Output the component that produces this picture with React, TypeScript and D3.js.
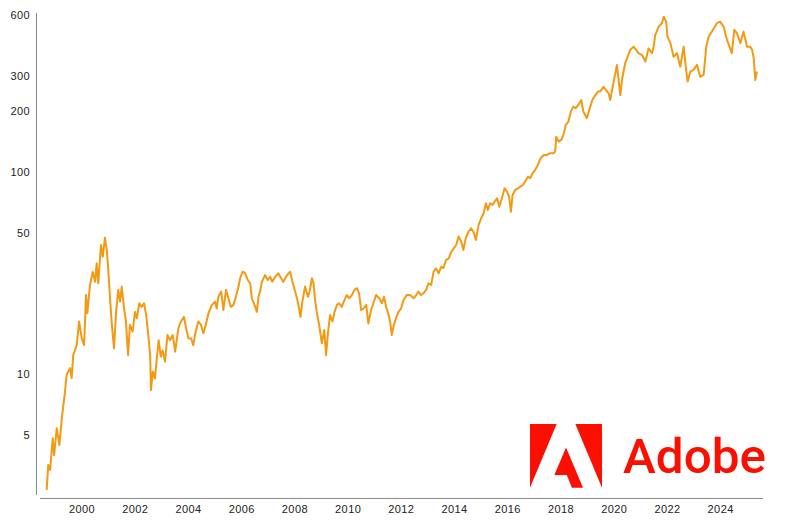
import React from 'react';
import * as d3 from 'd3';

// [decimal year, price], grouped by period
const prices1998to2003: [number, number][] = [
  [1998.67, 2.67], [1998.73, 3.55], [1998.8, 3.35], [1998.9, 4.81], [1998.95, 3.97],
  [1999.05, 5.39], [1999.15, 4.45], [1999.24, 6.04], [1999.36, 8.17], [1999.42, 9.9],
  [1999.55, 10.7], [1999.61, 9.55], [1999.67, 12.4], [1999.8, 13.9], [1999.89, 18.2],
  [1999.99, 15.0], [2000.08, 13.9], [2000.15, 24.6], [2000.2, 20.0], [2000.3, 27.6],
  [2000.4, 32.1], [2000.49, 28.6], [2000.55, 35.3], [2000.61, 28.1], [2000.71, 43.5],
  [2000.78, 38.1], [2000.86, 47.3], [2000.93, 41.1], [2000.99, 32.1], [2001.05, 23.7],
  [2001.12, 17.5], [2001.2, 13.4], [2001.28, 20.3], [2001.36, 26.1], [2001.43, 22.8],
  [2001.49, 27.1], [2001.58, 21.1], [2001.65, 18.2], [2001.73, 12.4], [2001.8, 17.5],
  [2001.9, 16.2], [2001.99, 20.3], [2002.06, 18.9], [2002.15, 22.4], [2002.24, 21.5],
  [2002.33, 22.4], [2002.41, 19.6], [2002.49, 15.6], [2002.56, 12.4], [2002.59, 8.33],
  [2002.66, 10.3], [2002.74, 9.5], [2002.81, 11.96], [2002.88, 14.7], [2002.96, 12.2],
  [2003.03, 13.1], [2003.12, 11.5], [2003.21, 15.6], [2003.31, 14.7], [2003.41, 15.6],
  [2003.5, 12.9],
];

const prices2003to2008: [number, number][] = [
  [2003.62, 16.8], [2003.68, 17.8], [2003.83, 19.2], [2003.9, 17.2], [2004.0, 15.0],
  [2004.1, 15.0], [2004.18, 13.9], [2004.27, 16.2], [2004.37, 18.2], [2004.47, 17.5],
  [2004.56, 15.9], [2004.65, 17.5], [2004.75, 20.0], [2004.88, 22.0], [2005.0, 22.8],
  [2005.06, 21.1], [2005.12, 24.1], [2005.23, 25.6], [2005.31, 20.7], [2005.41, 26.1],
  [2005.5, 23.7], [2005.59, 21.5], [2005.69, 22.0], [2005.78, 24.1], [2005.88, 27.1],
  [2005.94, 29.8], [2006.04, 32.1], [2006.13, 31.5], [2006.23, 29.2], [2006.32, 28.1],
  [2006.38, 23.7], [2006.48, 22.0], [2006.57, 20.3], [2006.63, 24.1], [2006.69, 25.6],
  [2006.76, 28.6], [2006.88, 30.9], [2006.98, 29.2], [2007.07, 30.3], [2007.15, 28.6],
  [2007.26, 30.3], [2007.38, 31.5], [2007.48, 29.8], [2007.57, 28.6], [2007.67, 30.3],
  [2007.76, 31.5], [2007.82, 32.1], [2007.91, 28.6], [2008.01, 25.6], [2008.11, 22.8],
  [2008.21, 19.2], [2008.28, 22.8], [2008.38, 27.1], [2008.49, 24.1], [2008.55, 25.6],
  [2008.64, 29.8], [2008.7, 28.1],
];

const prices2008to2014: [number, number][] = [
  [2008.76, 23.0], [2008.82, 20.3], [2008.91, 17.5], [2009.01, 14.2], [2009.1, 16.5],
  [2009.17, 12.4], [2009.24, 15.9], [2009.32, 19.6], [2009.41, 18.2], [2009.49, 20.3],
  [2009.58, 22.0], [2009.66, 22.4], [2009.76, 21.5], [2009.86, 23.2], [2009.95, 24.6],
  [2010.04, 23.7], [2010.14, 24.6], [2010.24, 26.1], [2010.33, 26.6], [2010.41, 25.1],
  [2010.49, 20.7], [2010.58, 21.1], [2010.68, 22.0], [2010.76, 17.8], [2010.86, 20.7],
  [2010.95, 22.4], [2011.05, 24.6], [2011.17, 23.7], [2011.27, 22.4], [2011.35, 24.1],
  [2011.43, 21.5], [2011.52, 19.6], [2011.58, 18.2], [2011.64, 15.6], [2011.72, 17.5],
  [2011.8, 18.9], [2011.89, 20.3], [2011.99, 21.1], [2012.08, 23.2], [2012.2, 24.6],
  [2012.33, 24.6], [2012.46, 23.7], [2012.56, 24.6], [2012.64, 25.6], [2012.74, 24.6],
  [2012.83, 25.1], [2012.93, 26.1], [2013.02, 28.1], [2013.12, 27.6], [2013.21, 32.1],
  [2013.3, 33.4], [2013.4, 31.5], [2013.5, 34.0], [2013.58, 33.4], [2013.68, 36.7],
  [2013.78, 37.4], [2013.88, 40.3], [2013.97, 41.9],
];

const prices2014to2019: [number, number][] = [
  [2014.06, 43.5], [2014.15, 47.9], [2014.25, 45.2], [2014.33, 41.1], [2014.42, 47.0],
  [2014.52, 50.6], [2014.62, 52.6], [2014.71, 50.6], [2014.8, 46.1], [2014.9, 54.6],
  [2015.0, 59.0], [2015.09, 62.5], [2015.18, 70.0], [2015.25, 64.9], [2015.34, 70.0],
  [2015.43, 68.7], [2015.5, 71.3], [2015.6, 74.1], [2015.68, 67.3], [2015.78, 74.1],
  [2015.88, 83.0], [2015.97, 80.0], [2016.05, 75.5], [2016.12, 63.6], [2016.18, 76.9],
  [2016.28, 81.5], [2016.38, 83.0], [2016.47, 84.6], [2016.57, 86.2], [2016.65, 89.6],
  [2016.76, 94.8], [2016.84, 93.1], [2016.93, 98.6], [2017.03, 102.4], [2017.13, 108.3],
  [2017.23, 117.0], [2017.35, 121.4], [2017.47, 121.4], [2017.59, 123.8], [2017.72, 123.8],
  [2017.78, 126.1], [2017.82, 149.5], [2017.91, 141.3], [2018.01, 144.0], [2018.09, 152.5],
  [2018.18, 171.0], [2018.28, 177.6], [2018.37, 199.0], [2018.46, 210.6], [2018.55, 206.6],
  [2018.65, 214.6], [2018.76, 227.2], [2018.84, 199.0], [2018.97, 184.5], [2019.1, 210.6],
  [2019.18, 227.2], [2019.29, 240.0], [2019.39, 250.0], [2019.47, 250.0],
];

const prices2019to2025: [number, number][] = [
  [2019.6, 264], [2019.79, 245], [2019.85, 227], [2019.91, 250], [2020.1, 338],
  [2020.23, 240], [2020.29, 285], [2020.41, 345], [2020.6, 402], [2020.73, 417],
  [2020.91, 387], [2021.04, 379], [2021.17, 352], [2021.29, 409], [2021.42, 387],
  [2021.48, 417], [2021.54, 476], [2021.67, 524], [2021.79, 545], [2021.86, 587],
  [2021.95, 555], [2022.0, 468], [2022.11, 434], [2022.23, 372], [2022.36, 387],
  [2022.48, 332], [2022.61, 417], [2022.71, 314], [2022.76, 280], [2022.86, 314],
  [2022.98, 320], [2023.11, 339], [2023.23, 296], [2023.36, 302], [2023.46, 417],
  [2023.55, 468], [2023.67, 495], [2023.86, 545], [2023.98, 555], [2024.11, 524],
  [2024.24, 450], [2024.42, 387], [2024.51, 505], [2024.61, 486], [2024.74, 434],
  [2024.86, 495], [2024.99, 417], [2025.11, 417], [2025.18, 402], [2025.24, 366],
  [2025.3, 285], [2025.36, 314],
];

const xTickYears = [2000, 2002, 2004, 2006, 2008, 2010, 2012, 2014, 2016, 2018, 2020, 2022, 2024];
const yTicks = [5, 10, 50, 100, 200, 300, 600];

const WIDTH = 800;
const HEIGHT = 520;
const LINE_COLOR = '#f39a12';
const AXIS_COLOR = '#8a8a8a';
const LOGO_RED = '#fa0f00';
const FONT = '"Liberation Sans", Arial, sans-serif';

// decimal year -> Date
const toDate = (t: number) => {
  const y = Math.floor(t);
  const start = Date.UTC(y, 0, 1);
  const end = Date.UTC(y + 1, 0, 1);
  return new Date(start + (t - y) * (end - start));
};

const App = () => {
  const series = [
    ...prices1998to2003,
    ...prices2003to2008,
    ...prices2008to2014,
    ...prices2014to2019,
    ...prices2019to2025,
  ].map(([t, v]) => ({ date: toDate(t), value: v }));

  const x = d3.scaleUtc()
    .domain([toDate(1998.42), toDate(2025.59)])
    .range([40, 763]);

  const y = d3.scaleLog()
    .domain([2.52, 605])
    .range([495, 14]);

  const line = d3.line<{ date: Date; value: number }>()
    .x(d => x(d.date))
    .y(d => y(d.value));

  // Adobe mark, 24-unit grid
  const logoX = 530;
  const logoY = 424 - 1.376 * 3;
  const s = 3;
  const pt = (a: number, b: number) => `${logoX + a * s},${logoY + b * s}`;
  const markLeft = [pt(8.884, 1.376), pt(0, 1.376), pt(0, 22.624)].join(' ');
  const markRight = [pt(15.116, 1.376), pt(24, 1.376), pt(24, 22.624)].join(' ');
  const markMid = [pt(13.966, 22.624), pt(12.276, 18.343), pt(8.122, 18.343), pt(12.014, 9.199), pt(17.676, 22.624)].join(' ');

  return (
    <svg
      width={WIDTH}
      height={HEIGHT}
      style={{ position: 'absolute', left: 0, top: 0, background: '#fff' }}
      fontFamily={FONT}
    >
      {/* y axis */}
      <line x1={36.5} x2={36.5} y1={13} y2={495} stroke={AXIS_COLOR} strokeWidth={1} />
      {yTicks.map(t => (
        <text
          key={t}
          x={30}
          y={y(t)}
          dy="0.36em"
          textAnchor="end"
          fontSize={11}
          letterSpacing={0.4}
          fill="#222"
        >
          {t}
        </text>
      ))}

      {/* x axis */}
      <line x1={40} x2={763} y1={498.5} y2={498.5} stroke={AXIS_COLOR} strokeWidth={1} />
      {xTickYears.map(yr => (
        <text
          key={yr}
          x={x(toDate(yr))}
          y={513}
          textAnchor="middle"
          fontSize={11}
          letterSpacing={0.4}
          fill="#222"
        >
          {yr}
        </text>
      ))}

      {/* logo */}
      <g fill={LOGO_RED}>
        <polygon points={markLeft} />
        <polygon points={markRight} />
        <polygon points={markMid} />
        <text
          x={623}
          y={472.5}
          fontFamily='Roboto, "Liberation Sans", Arial, sans-serif'
          fontWeight={500}
          fontSize={48}
          textLength={143}
          lengthAdjust="spacingAndGlyphs"
        >
          Adobe
        </text>
      </g>

      {/* price line */}
      <path
        d={line(series) ?? ''}
        fill="none"
        stroke={LINE_COLOR}
        strokeWidth={2}
        strokeLinejoin="round"
      />
    </svg>
  );
};

export default App;
